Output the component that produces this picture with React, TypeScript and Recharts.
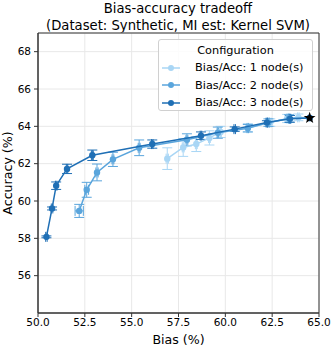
import React from "react";
import {
  CartesianGrid,
  ErrorBar,
  Legend,
  ReferenceArea,
  Scatter,
  ScatterChart,
  XAxis,
  YAxis,
} from "recharts";

// values
const bias1 = [56.9, 57.75, 58.45, 59.15, 59.75, 61.2, 62.4, 63.3, 63.9, 64.5];
const acc1 = [62.27, 62.87, 63.05, 63.38, 63.7, 63.92, 64.2, 64.42, 64.48, 64.45];
const biasErr1 = [0.06, 0.05, 0.05, 0.05, 0.04, 0.04, 0.04, 0.04, 0.04, 0];
const accErr1 = [0.58, 0.48, 0.4, 0.38, 0.3, 0.22, 0.2, 0.22, 0.18, 0];

const bias2 = [52.2, 52.6, 53.15, 54.0, 55.4, 57.95, 59.6, 61.2, 62.3, 63.4, 64.5];
const acc2 = [59.47, 60.6, 61.53, 62.23, 62.85, 63.28, 63.66, 63.9, 64.2, 64.42, 64.45];
const biasErr2 = [0.22, 0.1, 0.06, 0.05, 0.05, 0.05, 0.04, 0.04, 0.04, 0.04, 0];
const accErr2 = [0.35, 0.4, 0.45, 0.38, 0.42, 0.32, 0.3, 0.2, 0.2, 0.2, 0];

const bias3 = [50.45, 50.75, 50.97, 51.55, 52.9, 56.1, 58.7, 60.5, 62.22, 63.45, 64.5];
const acc3 = [58.08, 59.6, 60.82, 61.72, 62.45, 63.05, 63.5, 63.85, 64.2, 64.4, 64.45];
const biasErr3 = [0.04, 0.04, 0.04, 0.04, 0.05, 0.04, 0.04, 0.04, 0.04, 0.04, 0];
const accErr3 = [0.05, 0.08, 0.2, 0.25, 0.28, 0.22, 0.2, 0.12, 0.1, 0.18, 0];

const baseline = [{ bias: 64.5, acc: 64.45 }];

const xTicks = [50, 52.5, 55, 57.5, 60, 62.5, 65];
const yTicks = [56, 58, 60, 62, 64, 66, 68];

const seriesNames = ["Bias/Acc: 1 node(s)", "Bias/Acc: 2 node(s)", "Bias/Acc: 3 node(s)"];
const colors = ["#a9d6f5", "#5aa5dc", "#1f6fb5"];

const build = (b: number[], a: number[], eb: number[], ea: number[]) =>
  b.map((v, i) => ({ bias: v, acc: a[i], biasErr: eb[i], accErr: ea[i] }));

const series = [
  build(bias1, acc1, biasErr1, accErr1),
  build(bias2, acc2, biasErr2, accErr2),
  build(bias3, acc3, biasErr3, accErr3),
];

const FONT = "'DejaVu Sans', sans-serif";

const Star = (props: any) => {
  const { cx, cy } = props;
  if (cx == null || cy == null) return null;
  const outer = 6.2;
  const inner = 2.5;
  const pts: string[] = [];
  for (let i = 0; i < 10; i++) {
    const r = i % 2 === 0 ? outer : inner;
    const ang = -Math.PI / 2 + (i * Math.PI) / 5;
    pts.push(`${cx + r * Math.cos(ang)},${cy + r * Math.sin(ang)}`);
  }
  return <polygon points={pts.join(" ")} fill="#000" />;
};

const dot = (color: string) => (props: any) => {
  const { cx, cy } = props;
  if (cx == null || cy == null) return null;
  return <circle cx={cx} cy={cy} r={3.2} fill={color} />;
};

const LegendBox = () => (
  <div
    style={{
      width: 155,
      height: 72,
      boxSizing: "border-box",
      background: "rgba(255,255,255,0.85)",
      border: "1px solid #d0d0d0",
      borderRadius: 3,
      fontFamily: FONT,
      fontSize: 11.3,
      color: "#000",
      paddingTop: 2,
    }}
  >
    <div style={{ textAlign: "center", height: 17, lineHeight: "17px" }}>Configuration</div>
    {seriesNames.map((name, i) => (
      <div key={name} style={{ display: "flex", alignItems: "center", height: 17.5 }}>
        <svg width={36} height={12} style={{ flex: "none" }}>
          <line x1={3} x2={21} y1={6} y2={6} stroke={colors[i]} strokeWidth={1.5} />
          <circle cx={12} cy={6} r={3} fill={colors[i]} />
        </svg>
        <span style={{ whiteSpace: "nowrap" }}>{name}</span>
      </div>
    ))}
  </div>
);

const YLabel = (props: any) => {
  const { viewBox } = props;
  const cy = viewBox.y + viewBox.height / 2;
  return (
    <text
      x={12}
      y={cy}
      transform={`rotate(-90, 12, ${cy})`}
      textAnchor="middle"
      fontSize={12.6}
      fontFamily={FONT}
      fill="#000"
    >
      Accuracy (%)
    </text>
  );
};

export default function App() {
  return (
    <div style={{ position: "absolute", left: 0, top: 0, width: 332, height: 347, fontFamily: FONT, background: "#fff" }}>
      <div
        style={{
          position: "absolute",
          left: 18,
          width: 320,
          top: 0,
          textAlign: "center",
          fontSize: 13.2,
          lineHeight: "17px",
          color: "#000",
          whiteSpace: "nowrap",
        }}
      >
        Bias-accuracy tradeoff
        <br />
        (Dataset: Synthetic, MI est: Kernel SVM)
      </div>
      <ScatterChart width={332} height={347} margin={{ top: 33, right: 13, left: 0, bottom: 0 }}>
        <CartesianGrid stroke="#e8e8e8" strokeWidth={1} />
        <XAxis
          type="number"
          dataKey="bias"
          domain={[50, 65]}
          ticks={xTicks}
          allowDataOverflow
          tickFormatter={(v: number) => v.toFixed(1)}
          height={34}
          tickSize={4}
          tickMargin={2}
          stroke="#333"
          tick={{ fill: "#000", fontSize: 10.5, fontFamily: FONT }}
          label={{ value: "Bias (%)", position: "insideBottom", offset: 3, fontSize: 12.6, fontFamily: FONT, fill: "#000" }}
        />
        <YAxis
          type="number"
          dataKey="acc"
          domain={[54, 69]}
          ticks={yTicks}
          allowDataOverflow
          width={38}
          tickSize={4}
          tickMargin={3}
          stroke="#333"
          tick={{ fill: "#000", fontSize: 10.5, fontFamily: FONT }}
          label={{ content: YLabel }}
        />
        <ReferenceArea x1={50} x2={65} y1={54} y2={69} fill="none" stroke="#333" strokeWidth={1} />
        {series.map((data, i) => (
          <Scatter
            key={seriesNames[i]}
            name={seriesNames[i]}
            data={data}
            fill={colors[i]}
            line={{ stroke: colors[i], strokeWidth: 1.5 }}
            lineType="joint"
            shape={dot(colors[i])}
            isAnimationActive={false}
          >
            <ErrorBar dataKey="accErr" direction="y" width={5} stroke={colors[i]} strokeWidth={1} />
            <ErrorBar dataKey="biasErr" direction="x" width={5} stroke={colors[i]} strokeWidth={1} />
          </Scatter>
        ))}
        <Scatter data={baseline} fill="#000" shape={Star} isAnimationActive={false} legendType="none" />
        <Legend
          layout="vertical"
          align="center"
          verticalAlign="middle"
          content={LegendBox}
          wrapperStyle={{ position: "absolute", left: 158, top: 39, width: 155 }}
        />
      </ScatterChart>
    </div>
  );
}
